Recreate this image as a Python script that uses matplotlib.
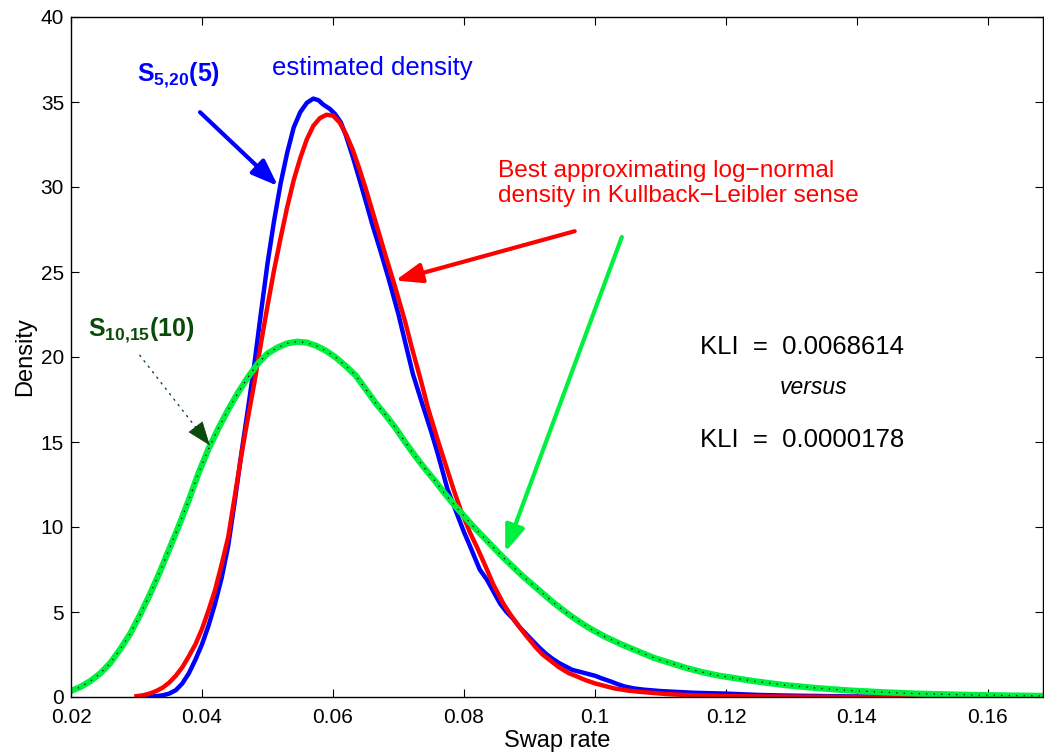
import matplotlib
matplotlib.use("Agg")
import matplotlib.pyplot as plt

plt.rcParams['font.family'] = ['Liberation Sans', 'DejaVu Sans']
plt.rcParams['mathtext.fontset'] = 'custom'
plt.rcParams['mathtext.rm'] = 'Liberation Sans'
plt.rcParams['mathtext.bf'] = 'Liberation Sans:bold'

# estimated density of S_{5,20}(5)
blue_x = [0.0310, 0.0320, 0.0330, 0.0340, 0.0350, 0.0360, 0.0370, 0.0380, 0.0390,
          0.0400, 0.0410, 0.0420, 0.0430, 0.0440, 0.0450, 0.0460, 0.0470, 0.0480,
          0.0490, 0.0500, 0.0510, 0.0520, 0.0530, 0.0540, 0.0550, 0.0560, 0.0570,
          0.0578, 0.0585, 0.0595, 0.0603, 0.0612, 0.0620, 0.0630, 0.0640, 0.0652,
          0.0660, 0.0672, 0.0685, 0.0700, 0.0710, 0.0722, 0.0735, 0.0750, 0.0760,
          0.0775, 0.0785, 0.0800, 0.0810, 0.0824, 0.0835, 0.0845, 0.0855, 0.0865,
          0.0875, 0.0885, 0.0895, 0.0905, 0.0915, 0.0925, 0.0935, 0.0945, 0.0955,
          0.0965, 0.0975, 0.0990, 0.1000, 0.1010, 0.1025, 0.1035, 0.1045, 0.1060,
          0.1075, 0.1100, 0.1150, 0.1200, 0.1250, 0.1300, 0.1400, 0.1500]
blue_y = [0.0, 0.02, 0.05, 0.1, 0.2, 0.4, 0.8, 1.4, 2.2,
          3.1, 4.2, 5.5, 7.0, 8.9, 11.5, 14.3, 16.9, 19.6,
          22.6, 25.5, 28.0, 30.2, 32.0, 33.5, 34.4, 34.95, 35.2,
          35.1, 34.85, 34.6, 34.3, 33.8, 33.0, 31.8, 30.5, 28.9,
          27.8, 26.3, 24.6, 22.5, 20.9, 19.0, 17.4, 15.6, 14.3,
          12.2, 11.2, 9.7, 8.8, 7.5, 6.9, 6.2, 5.5, 5.0,
          4.6, 4.1, 3.7, 3.3, 2.9, 2.55, 2.25, 2.0, 1.8,
          1.6, 1.5, 1.35, 1.25, 1.1, 0.9, 0.75, 0.62, 0.5,
          0.43, 0.35, 0.25, 0.2, 0.12, 0.08, 0.03, 0.0]

# best approximating log-normal
red_x = [0.0300, 0.0310, 0.0320, 0.0330, 0.0340, 0.0350, 0.0360, 0.0370, 0.0380,
         0.0390, 0.0400, 0.0410, 0.0420, 0.0430, 0.0440, 0.0450, 0.0460, 0.0470,
         0.0480, 0.0490, 0.0500, 0.0510, 0.0520, 0.0530, 0.0540, 0.0550, 0.0560,
         0.0570, 0.0580, 0.0590, 0.0600, 0.0610, 0.0620, 0.0630, 0.0640, 0.0650,
         0.0660, 0.0670, 0.0680, 0.0695, 0.0710, 0.0720, 0.0735, 0.0745, 0.0760,
         0.0770, 0.0785, 0.0795, 0.0810, 0.0820, 0.0835, 0.0845, 0.0860, 0.0870,
         0.0885, 0.0895, 0.0910, 0.0920, 0.0935, 0.0945, 0.0960, 0.0970, 0.0985,
         0.1000, 0.1015, 0.1030, 0.1050, 0.1070, 0.1110, 0.1150, 0.1200, 0.1300,
         0.1400, 0.1685]
red_y = [0.05, 0.1, 0.2, 0.35, 0.55, 0.85, 1.25, 1.75, 2.4,
         3.1, 4.0, 5.1, 6.3, 7.8, 9.4, 11.8, 14.2, 16.4,
         18.5, 20.8, 23.0, 25.1, 27.0, 28.8, 30.4, 31.7, 32.8,
         33.6, 34.05, 34.25, 34.2, 33.8, 33.1, 32.2, 31.1, 29.9,
         28.6, 27.3, 26.0, 24.1, 22.1, 20.6, 18.5, 17.0, 15.1,
         13.9, 12.1, 11.0, 9.6, 8.8, 7.5, 6.6, 5.5, 4.9,
         4.1, 3.6, 2.9, 2.5, 2.05, 1.75, 1.4, 1.25, 1.0,
         0.8, 0.65, 0.5, 0.38, 0.3, 0.17, 0.1, 0.05, 0.02,
         0.0, 0.0]

# density of S_{10,15}(10) and its log-normal fit
green_x = [0.0200, 0.0215, 0.0230, 0.0245, 0.0260, 0.0275, 0.0290, 0.0305, 0.0320,
           0.0335, 0.0350, 0.0365, 0.0380, 0.0395, 0.0410, 0.0425, 0.0440, 0.0455,
           0.0470, 0.0485, 0.0500, 0.0515, 0.0530, 0.0545, 0.0560, 0.0575, 0.0590,
           0.0605, 0.0620, 0.0635, 0.0650, 0.0665, 0.0680, 0.0695, 0.0710, 0.0725,
           0.0740, 0.0755, 0.0770, 0.0785, 0.0800, 0.0815, 0.0830, 0.0845, 0.0860,
           0.0875, 0.0890, 0.0905, 0.0920, 0.0935, 0.0950, 0.0965, 0.0980, 0.0995,
           0.1015, 0.1040, 0.1065, 0.1090, 0.1115, 0.1140, 0.1165, 0.1190, 0.1215,
           0.1240, 0.1265, 0.1290, 0.1340, 0.1390, 0.1440, 0.1490, 0.1540, 0.1590,
           0.1685]
green_y = [0.35, 0.6, 0.95, 1.4, 2.0, 2.8, 3.7, 4.8, 6.0,
           7.3, 8.7, 10.1, 11.6, 13.2, 14.6, 15.8, 16.9, 17.9,
           18.8, 19.6, 20.2, 20.55, 20.8, 20.9, 20.85, 20.65, 20.35,
           19.95, 19.45, 18.9, 18.1, 17.3, 16.6, 15.85, 15.0, 14.2,
           13.45, 12.75, 12.0, 11.3, 10.65, 10.0, 9.4, 8.8, 8.2,
           7.65, 7.1, 6.6, 6.1, 5.6, 5.15, 4.72, 4.33, 3.97,
           3.55, 3.1, 2.7, 2.3, 2.0, 1.7, 1.45, 1.25, 1.1,
           0.95, 0.82, 0.7, 0.52, 0.38, 0.28, 0.2, 0.15, 0.11,
           0.06]

x_ticks = [0.02, 0.04, 0.06, 0.08, 0.1, 0.12, 0.14, 0.16]
x_tick_labels = ['0.02', '0.04', '0.06', '0.08', '0.1', '0.12', '0.14', '0.16']
y_ticks = [0, 5, 10, 15, 20, 25, 30, 35, 40]

blue = '#0000ff'
red = '#ff0000'
green = '#00f040'
dkgreen = '#0a4a0a'

fig = plt.figure(figsize=(10.44, 7.52), dpi=100)
ax = fig.add_axes([71 / 1044, 55 / 752, 972 / 1044, 680 / 752])

ax.plot(blue_x, blue_y, color=blue, lw=3.2, solid_joinstyle='round')
ax.plot(red_x, red_y, color=red, lw=3.2, solid_joinstyle='round')
ax.plot(green_x, green_y, color=green, lw=4.5, solid_joinstyle='round')
ax.plot(green_x, green_y, color='black', lw=0.9, linestyle=(0, (1, 5)))

ax.set_xlim(0.02, 0.1684)
ax.set_ylim(0, 40)
ax.set_xticks(x_ticks)
ax.set_xticklabels(x_tick_labels)
ax.set_yticks(y_ticks)
ax.tick_params(direction='in', top=True, right=True, length=5.5, width=0.8,
               labelsize=15)
ax.tick_params(axis='x', pad=8)
ax.tick_params(axis='y', pad=5)
for s in ax.spines.values():
    s.set_linewidth(1.0)

ax.set_xlabel('Swap rate', fontsize=17, labelpad=2)
ax.set_ylabel('Density', fontsize=17, labelpad=3)

# annotations
ax.text(0.0507, 37.0, 'estimated density', color=blue, fontsize=18.5, va='center')
ax.text(0.0301, 36.2, r'$\mathbf{S}_{\mathbf{5{,}20}}\mathbf{(5)}$', color=blue,
        fontsize=18, va='baseline')
ax.text(0.0852, 30.2, 'Best approximating log\u2212normal\ndensity in Kullback\u2212Leibler sense',
        color=red, fontsize=17.6, va='center', linespacing=1.15)
ax.text(0.0226, 21.2, r'$\mathbf{S}_{\mathbf{10{,}15}}\mathbf{(10)}$', color=dkgreen,
        fontsize=18, va='baseline')
ax.text(0.1160, 20.6, 'KLI  =  0.0068614', fontsize=18.5, va='center')
ax.text(0.1333, 18.2, 'versus', fontsize=16.5, style='italic', va='center', ha='center')
ax.text(0.1160, 15.1, 'KLI  =  0.0000178', fontsize=18.5, va='center')

head = '-|>,head_length=0.8,head_width=0.3'
ax.annotate('', xy=(0.0516, 30.06), xytext=(0.0397, 34.4),
            arrowprops=dict(arrowstyle=head, color=blue, lw=3, mutation_scale=20,
                            shrinkA=0, shrinkB=0))
ax.annotate('', xy=(0.0695, 24.5), xytext=(0.0969, 27.4),
            arrowprops=dict(arrowstyle=head, color=red, lw=3, mutation_scale=20,
                            shrinkA=0, shrinkB=0))
ax.annotate('', xy=(0.0863, 8.53), xytext=(0.1041, 27.06),
            arrowprops=dict(arrowstyle=head, color=green, lw=3, mutation_scale=20,
                            shrinkA=0, shrinkB=0))
ax.annotate('', xy=(0.0412, 14.8), xytext=(0.0305, 20.1),
            arrowprops=dict(arrowstyle='-', color=dkgreen, lw=1.0,
                            linestyle=(0, (1, 4)), shrinkA=0, shrinkB=0))
ax.annotate('', xy=(0.0412, 14.8), xytext=(0.0395, 15.65),
            arrowprops=dict(arrowstyle=head, color=dkgreen, lw=0.5, mutation_scale=20,
                            shrinkA=0, shrinkB=0))

fig.savefig('out.png', dpi=100)
